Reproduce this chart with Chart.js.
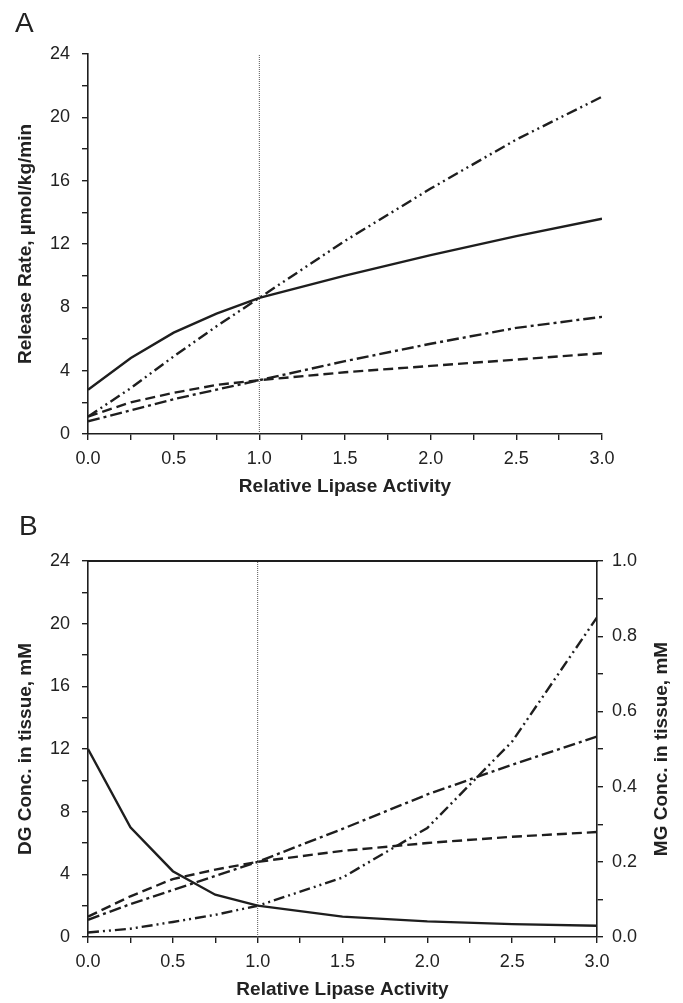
<!DOCTYPE html>
<html>
<head>
<meta charset="utf-8">
<title>Lipase activity</title>
<script src="https://cdn.jsdelivr.net/npm/chart.js@4.4.1/dist/chart.umd.min.js"></script>
<style>
    html, body { margin: 0; padding: 0; background: #fff; }
    .panel { position: absolute; left: 0; }
    .panel-label { position: absolute; left: 15px; font-family: "Liberation Sans", Arial, sans-serif; font-size: 28px; color: #222; line-height: 1; }
</style>
</head>
<body>
<div class="panel" style="top:0"><canvas id="chartA" width="683" height="500"></canvas></div>
<div class="panel" style="top:500px"><canvas id="chartB" width="683" height="503"></canvas></div>
<div class="panel-label" style="top:9px">A</div>
<div class="panel-label" style="top:512px;left:19px">B</div>

<script>
// x values shared by both panels (relative lipase activity)
const activity = [0, 0.25, 0.5, 0.75, 1.0, 1.5, 2.0, 2.5, 3.0];
const refActivity = 1.0; // dotted marker line

// Panel A - release rates, umol/kg/min
const rateSolid      = [2.8, 4.8, 6.4, 7.6, 8.6, 10.0, 11.3, 12.5, 13.6];
const rateDashDotDot = [1.1, 2.9, 4.9, 6.8, 8.6, 12.2, 15.5, 18.6, 21.3];
const rateDashDot    = [0.8, 1.5, 2.2, 2.8, 3.4, 4.6, 5.7, 6.7, 7.4];
const rateDashed     = [1.1, 2.0, 2.6, 3.1, 3.4, 3.9, 4.3, 4.7, 5.1];

// Panel B - tissue concentrations (DG left axis, MG right axis), mM
const dgSolid        = [12.0, 7.0, 4.2, 2.7, 2.0, 1.3, 1.0, 0.82, 0.72];
const dgDashed       = [1.3, 2.6, 3.7, 4.3, 4.8, 5.5, 6.0, 6.4, 6.7];
const dgDashDot      = [1.1, 2.1, 3.0, 3.9, 4.8, 6.9, 9.1, 11.0, 12.8];
const mgDashDotDot   = [0.012, 0.022, 0.04, 0.059, 0.083, 0.158, 0.29, 0.52, 0.85];

const xTickLabels = ['0.0', '0.5', '1.0', '1.5', '2.0', '2.5', '3.0'];

const INK = '#1e1e1e';
const FONT = '"Liberation Sans", Arial, sans-serif';
const DASHES = {
    solid: [],
    dashed: [10, 5],
    dashDot: [12, 4, 3, 4],
    dashDotDot: [11, 4, 2, 4, 2, 4]
};

function pts(ys) {
    return activity.map((x, i) => ({ x: x, y: ys[i] }));
}

function lineSet(ys, dash, axis) {
    return {
        data: pts(ys),
        yAxisID: axis || 'y',
        borderColor: INK,
        borderWidth: 2.4,
        borderDash: dash,
        borderCapStyle: 'butt',
        pointRadius: 0,
        tension: 0,
        fill: false
    };
}

function markerSet(yMax) {
    return {
        data: [{ x: refActivity, y: 0 }, { x: refActivity, y: yMax }],
        yAxisID: 'y',
        borderColor: '#555',
        borderWidth: 1,
        borderDash: [1, 1],
        pointRadius: 0,
        fill: false
    };
}

function xAxis(height) {
    return {
        type: 'linear', position: 'bottom', min: 0, max: 3,
        afterFit: (s) => { s.height = height; },
        border: { display: true, color: INK, width: 1.6 },
        grid: { display: true, drawOnChartArea: false, tickLength: 6, color: INK, lineWidth: 1.4 },
        ticks: {
            stepSize: 0.25, padding: 8, color: '#222', maxRotation: 0, autoSkip: false,
            font: { family: FONT, size: 18 },
            callback: (v) => {
                const idx = Math.round(v * 2);
                return Math.abs(v * 2 - idx) < 1e-6 ? xTickLabels[idx] : '';
            }
        },
        title: {
            display: true, text: 'Relative Lipase Activity', color: '#222',
            font: { family: FONT, size: 19, weight: 'bold' },
            padding: { top: 0, bottom: 2 }
        }
    };
}

function leftAxis(title) {
    return {
        type: 'linear', position: 'left', min: 0, max: 24,
        afterFit: (s) => { s.width = 88; },
        border: { display: true, color: INK, width: 1.6 },
        grid: { display: true, drawOnChartArea: false, tickLength: 6, color: INK, lineWidth: 1.4 },
        ticks: {
            stepSize: 2, padding: 12, color: '#222', autoSkip: false,
            font: { family: FONT, size: 18 },
            callback: (v) => (v % 4 === 0 ? String(v) : '')
        },
        title: {
            display: true, text: title, color: '#222',
            font: { family: FONT, size: 19, weight: 'bold' },
            padding: { top: 14, bottom: 0 }
        }
    };
}

// draws the right-hand axis title reading bottom to top
const rotatedTitle = {
    id: 'rotatedTitle',
    afterDraw(chart, args, opts) {
        if (!opts || !opts.text) return;
        const { ctx, chartArea } = chart;
        ctx.save();
        ctx.translate(opts.x, (chartArea.top + chartArea.bottom) / 2);
        ctx.rotate(-Math.PI / 2);
        ctx.font = 'bold 19px ' + FONT;
        ctx.fillStyle = '#222';
        ctx.textAlign = 'center';
        ctx.textBaseline = 'middle';
        ctx.fillText(opts.text, 0, 0);
        ctx.restore();
    }
};

const common = {
    responsive: false,
    animation: false,
    plugins: { legend: { display: false }, tooltip: { enabled: false } },
    elements: { line: { borderJoinStyle: 'miter' } }
};

document.addEventListener('DOMContentLoaded', () => {
    // Panel A
    new Chart(document.getElementById('chartA'), {
        type: 'line',
        data: {
            datasets: [
                markerSet(24),
                lineSet(rateDashed, DASHES.dashed),
                lineSet(rateDashDot, DASHES.dashDot),
                lineSet(rateDashDotDot, DASHES.dashDotDot),
                lineSet(rateSolid, DASHES.solid)
            ]
        },
        options: Object.assign({}, common, {
            layout: { padding: { top: 54, right: 81, left: 0, bottom: 0 } },
            scales: {
                x: xAxis(66),
                y: leftAxis('Release Rate, \u00b5mol/kg/min')
            }
        })
    });

    // Panel B - closed frame on top, second y axis on the right
    const topAxis = {
        type: 'linear', position: 'top', min: 0, max: 3,
        afterFit: (s) => { s.height = 0; },
        border: { display: true, color: INK, width: 2 },
        grid: { display: false },
        ticks: { display: false }
    };

    new Chart(document.getElementById('chartB'), {
        type: 'line',
        data: {
            datasets: [
                markerSet(24),
                lineSet(dgDashed, DASHES.dashed),
                lineSet(dgDashDot, DASHES.dashDot),
                lineSet(mgDashDotDot, DASHES.dashDotDot, 'y1'),
                lineSet(dgSolid, DASHES.solid)
            ]
        },
        options: Object.assign({}, common, {
            layout: { padding: { top: 61, right: 0, left: 0, bottom: 0 } },
            plugins: Object.assign({}, common.plugins, {
                rotatedTitle: { text: 'MG Conc. in tissue, mM', x: 662 }
            }),
            scales: {
                x: xAxis(66),
                x2: topAxis,
                y: leftAxis('DG Conc. in tissue, mM'),
                y1: {
                    type: 'linear', position: 'right', min: 0, max: 1,
                    afterFit: (s) => { s.width = 86; },
                    border: { display: true, color: INK, width: 1.6 },
                    grid: { display: true, drawOnChartArea: false, tickLength: 6, color: INK, lineWidth: 1.4 },
                    ticks: {
                        stepSize: 0.1, padding: 9, color: '#222', autoSkip: false,
                        font: { family: FONT, size: 18 },
                        callback: (v) => (Math.round(v * 10) % 2 === 0 ? v.toFixed(1) : '')
                    }
                }
            }
        }),
        plugins: [rotatedTitle]
    });
});
</script>
</body>
</html>
